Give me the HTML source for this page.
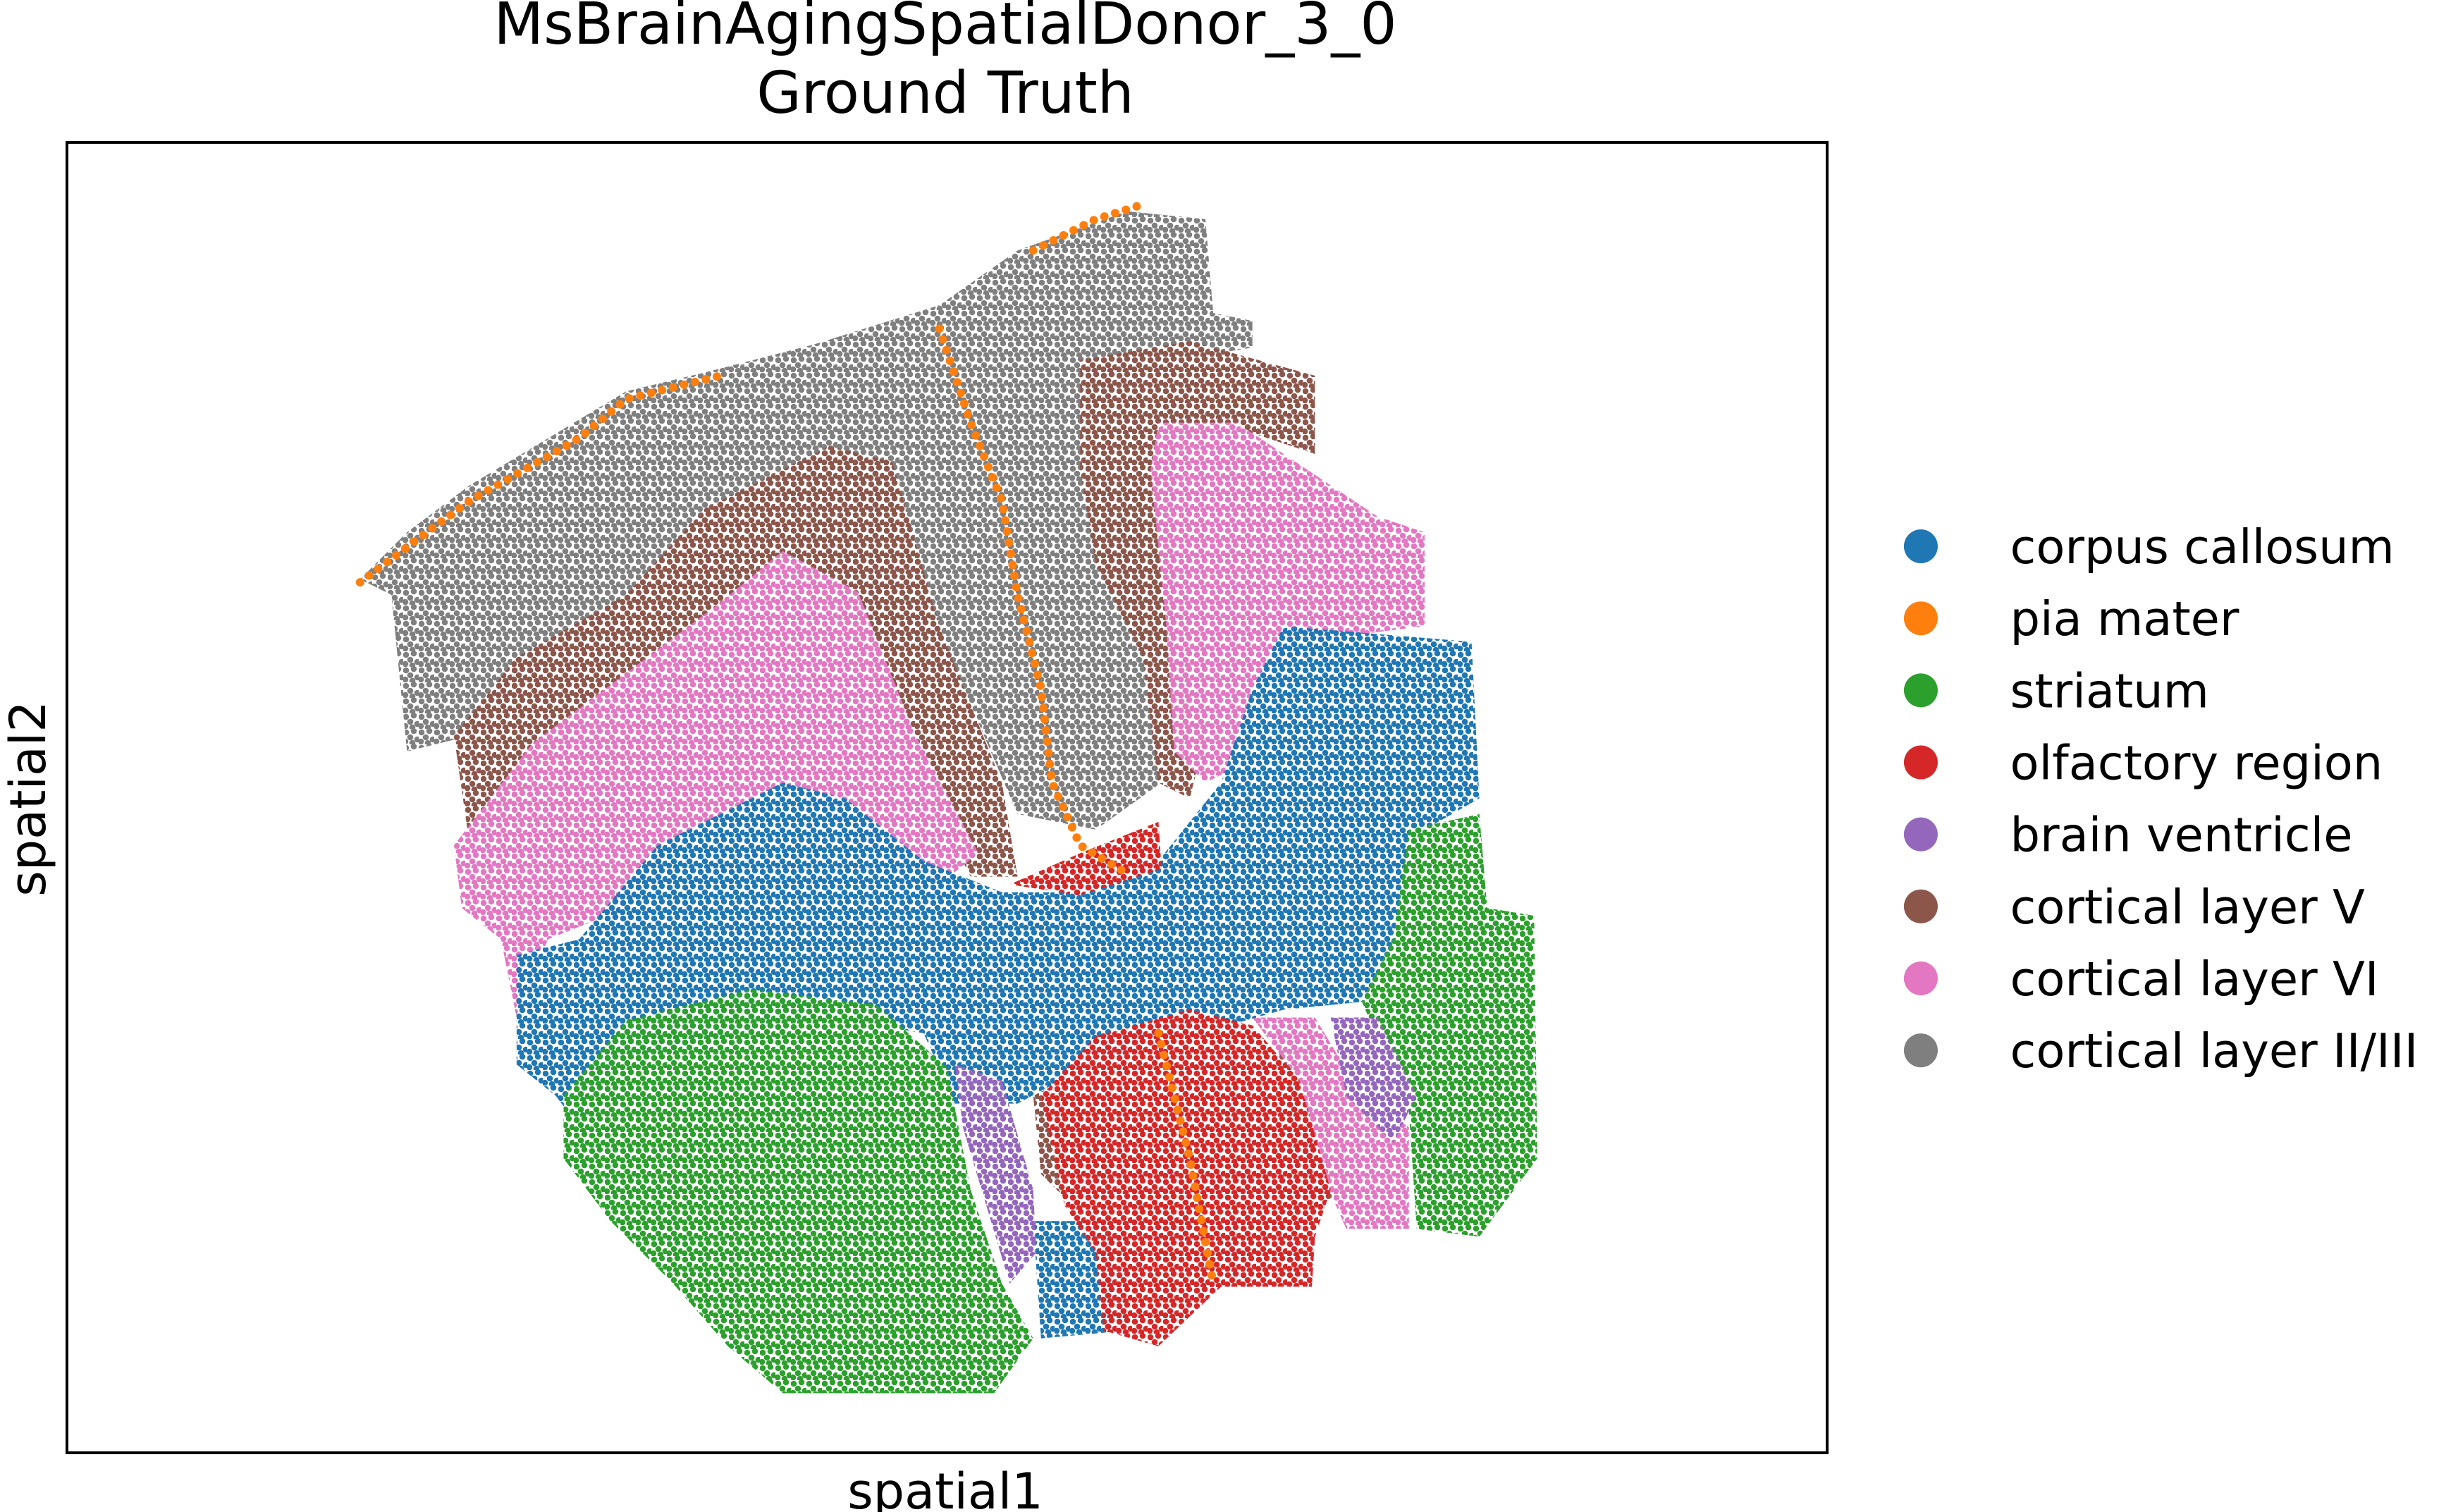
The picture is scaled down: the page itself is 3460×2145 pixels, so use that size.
<!DOCTYPE html>
<html><head><meta charset="utf-8"><style>
html,body{margin:0;padding:0;background:#fff}
svg{display:block}
text{font-family:"DejaVu Sans","Liberation Sans",sans-serif;fill:#000}
</style></head><body>
<svg id="chart" width="3460" height="2145" viewBox="0 0 3460 2145" xmlns="http://www.w3.org/2000/svg">
<defs id="defs"></defs>
<text x="1341" y="62" font-size="82" text-anchor="middle">MsBrainAgingSpatialDonor_3_0</text>
<text x="1341" y="160" font-size="82" text-anchor="middle">Ground Truth</text>
<g id="plot"></g>
<rect x="95" y="202" width="2497" height="1859" fill="none" stroke="#000" stroke-width="4"/>
<text x="1341" y="2140" font-size="70" text-anchor="middle">spatial1</text>
<text x="0" y="0" font-size="70" text-anchor="middle" transform="translate(64,1133) rotate(-90)">spatial2</text>
<g id="legend"></g>
</svg>
<script>
const NS="http://www.w3.org/2000/svg";
const S=2.2208;
function X(v){return v*S;}
function Y(v){return v*S;}
const categories=["corpus callosum","pia mater","striatum","olfactory region","brain ventricle","cortical layer V","cortical layer VI","cortical layer II/III"];
const colors=["#1f77b4","#ff7f0e","#2ca02c","#d62728","#9467bd","#8c564b","#e377c2","#7f7f7f"];
const grayRegions=[[[230,370],[260,340],[300,310],[400,250],[450,238],[520,220],[600,195],[650,160],[720,135],[770,140],[775,200],[800,205],[800,222],[740,232],[700,260],[690,300],[735,310],[745,400],[742,500],[700,530],[650,520],[620,450],[560,390],[500,330],[440,340],[380,400],[330,440],[300,470],[260,480],[250,380]]];
const brownRegions=[
[[290,470],[330,420],[400,380],[450,325],[530,285],[570,295],[600,400],[640,500],[650,560],[620,560],[580,480],[540,400],[500,360],[440,400],[380,450],[340,500],[300,540]],
[[690,230],[760,218],[840,240],[840,290],[780,270],[745,290],[750,400],[770,470],[760,510],[740,500],[730,420],[700,360],[690,300]],
[[660,700],[700,680],[700,760],[690,775],[665,750]],
[[815,655],[850,680],[862,760],[840,770],[820,700]]];
const pinkRegions=[
[[290,540],[340,475],[400,430],[460,385],[500,352],[548,378],[585,470],[625,545],[600,565],[540,530],[500,500],[440,530],[400,580],[350,600],[330,650],[320,600],[295,580]],
[[740,270],[790,270],[850,310],[880,330],[910,340],[910,400],[830,410],[800,440],[790,490],[770,500],[750,480],[745,400],[735,300]],
[[800,650],[840,650],[870,700],[900,720],[900,785],[860,785],[840,740],[830,690]]];
const blueRegions=[
[[330,610],[370,600],[420,540],[500,500],[540,510],[590,550],[640,570],[680,570],[740,550],[780,500],[800,440],[820,400],[940,410],[945,510],[910,530],[890,600],[870,640],[820,645],[760,662],[700,678],[650,705],[610,705],[590,660],[530,650],[470,660],[390,680],[370,720],[355,700],[330,680]],
[[660,780],[710,780],[720,850],[665,855]]];
const greenRegions=[
[[360,700],[400,652],[480,632],[560,642],[605,682],[620,760],[640,820],[660,855],[635,890],[500,890],[465,860],[430,820],[390,780],[360,740]],
[[900,530],[945,520],[950,580],[980,585],[982,740],[945,790],[905,785],[900,710],[870,640],[890,600]]];
const redRegions=[
[[665,700],[700,662],[760,645],[800,655],[830,690],[850,760],[840,790],[838,822],[780,822],[740,860],[705,850],[700,800],[680,770]],
[[645,565],[690,545],[740,525],[742,555],[690,572]]];
const purpleRegions=[
[[610,680],[640,690],[660,760],[662,800],[645,820],[630,770],[615,720]],
[[850,650],[880,650],[905,700],[890,730],[860,700]]];
const orangeLines=[
[[230,372],[270,342],[300,320],[370,280],[400,255],[460,240]],
[[600,210],[620,270],[640,320],[650,380],[665,440],[672,500],[690,540],[720,558]],
[[660,160],[700,140],[732,130]],
[[740,660],[760,740],[775,820]]];

const defs=document.getElementById('defs');
const plot=document.getElementById('plot');
function makePattern(id,col){
  const p=document.createElementNS(NS,'pattern');
  p.setAttribute('id',id);p.setAttribute('patternUnits','userSpaceOnUse');
  p.setAttribute('width','22');p.setAttribute('height','22');
  [[4,5],[15,3],[10,12],[20,15],[3,18],[13,20]].forEach(d=>{
    const c=document.createElementNS(NS,'circle');
    c.setAttribute('cx',d[0]);c.setAttribute('cy',d[1]);c.setAttribute('r','4.3');c.setAttribute('fill',col);
    p.appendChild(c);
  });
  defs.appendChild(p);
}
colors.forEach((c,i)=>makePattern('pat'+i,c));
function drawRegions(regs,ci,name){
  regs.forEach((r,k)=>{
    const pg=document.createElementNS(NS,'polygon');
    pg.setAttribute('points',r.map(p=>X(p[0])+','+Y(p[1])).join(' '));
    pg.setAttribute('fill','url(#pat'+ci+')');
    
    
    plot.appendChild(pg);
  });
}
drawRegions(grayRegions,7,'cortical-layer-ii-iii');
drawRegions(brownRegions,5,'cortical-layer-v');
drawRegions(pinkRegions,6,'cortical-layer-vi');
drawRegions(blueRegions,0,'corpus-callosum');
drawRegions(greenRegions,2,'striatum');
drawRegions(redRegions,3,'olfactory-region');
drawRegions(purpleRegions,4,'brain-ventricle');
orangeLines.forEach((l,k)=>{
  const pl=document.createElementNS(NS,'polyline');
  pl.setAttribute('points',l.map(p=>X(p[0])+','+Y(p[1])).join(' '));
  pl.setAttribute('fill','none');pl.setAttribute('stroke',colors[1]);
  pl.setAttribute('stroke-width','12');pl.setAttribute('stroke-dasharray','0 16');
  pl.setAttribute('stroke-linecap','round');
  
  
  plot.appendChild(pl);
});
const lg=document.getElementById('legend');
categories.forEach((c,i)=>{
  const y=Y(349+i*46);
  const cc=document.createElementNS(NS,'circle');
  cc.setAttribute('cx',X(1227));cc.setAttribute('cy',y);cc.setAttribute('r','24');cc.setAttribute('fill',colors[i]);
  
  
  lg.appendChild(cc);
  const t=document.createElementNS(NS,'text');
  t.setAttribute('x',X(1284));t.setAttribute('y',y+24);t.setAttribute('font-size','67');
  t.textContent=c;
  
  
  lg.appendChild(t);
});
</script>
</body></html>
